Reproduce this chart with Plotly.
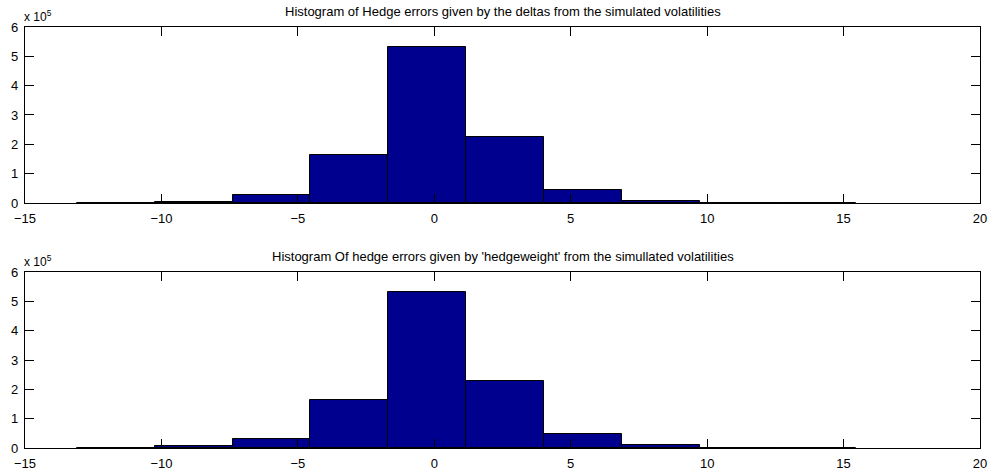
import plotly.graph_objects as go
from plotly.subplots import make_subplots

# Histogram bin edges shared by both panels (10 equal-width bins)
bin_edges = [-13.100, -10.246, -7.392, -4.538, -1.684, 1.170,
             4.024, 6.878, 9.732, 12.586, 15.440]

# Counts per bin for the two hedging strategies
delta_counts = [400, 5000, 27000, 164000, 532000, 226000, 44000, 8000, 1000, 300]
hedgeweight_counts = [200, 6000, 29000, 164000, 532000, 228000, 46000, 9000, 600, 100]

titles = [
    "Histogram of Hedge errors given by the deltas from the simulated volatilities",
    "Histogram Of hedge errors given by 'hedgeweight' from the simullated volatilities",
]

x_ticks = [-15, -10, -5, 0, 5, 10, 15, 20]
y_ticks = [0, 1, 2, 3, 4, 5, 6]
y_scale = 1e5

centers = [(a + b) / 2 for a, b in zip(bin_edges[:-1], bin_edges[1:])]
widths = [b - a for a, b in zip(bin_edges[:-1], bin_edges[1:])]

FONT = "Liberation Sans, Arial, Helvetica, sans-serif"
BAR_COLOR = "#00008f"

fig = make_subplots(rows=2, cols=1, vertical_spacing=0.164)

for row, counts in enumerate([delta_counts, hedgeweight_counts], start=1):
    fig.add_trace(
        go.Bar(
            x=centers,
            y=counts,
            width=widths,
            marker=dict(color=BAR_COLOR, line=dict(color="black", width=1)),
            showlegend=False,
        ),
        row=row, col=1,
    )

axis_common = dict(
    showline=True, linecolor="black", linewidth=1.2, mirror="ticks",
    ticks="inside", ticklen=9, tickcolor="black", tickwidth=1,
    showgrid=False, zeroline=False, automargin=False,
    tickfont=dict(family=FONT, size=13, color="black"),
)

for row in (1, 2):
    fig.update_xaxes(range=[-15, 20], tickvals=x_ticks, ticklabelstandoff=3,
                     **axis_common, row=row, col=1)
    fig.update_yaxes(
        range=[0, 6 * y_scale],
        tickvals=[v * y_scale for v in y_ticks],
        ticktext=[str(v) for v in y_ticks],
        ticklabelstandoff=3,
        **axis_common, row=row, col=1,
    )

# Panel titles and axis exponent labels
annotations = []
for i, title in enumerate(titles):
    xref = "x domain" if i == 0 else "x2 domain"
    yref = "y domain" if i == 0 else "y2 domain"
    annotations.append(dict(
        text=title, x=0.5, y=1.0, xref=xref, yref=yref,
        xanchor="center", yanchor="bottom", yshift=6, showarrow=False,
        font=dict(family=FONT, size=13, color="black"),
    ))
    annotations.append(dict(
        text="x 10<sup>5</sup>", x=0.0, y=1.0, xref=xref, yref=yref,
        xanchor="left", yanchor="bottom", yshift=1, xshift=-3, showarrow=False,
        font=dict(family=FONT, size=12, color="black"),
    ))
fig.update_layout(annotations=annotations)

fig.update_layout(
    width=988, height=470,
    margin=dict(l=25, r=8, t=27, b=22),
    paper_bgcolor="white", plot_bgcolor="white",
    bargap=0,
    font=dict(family=FONT, size=13, color="black"),
)

fig.write_html("out.html")
